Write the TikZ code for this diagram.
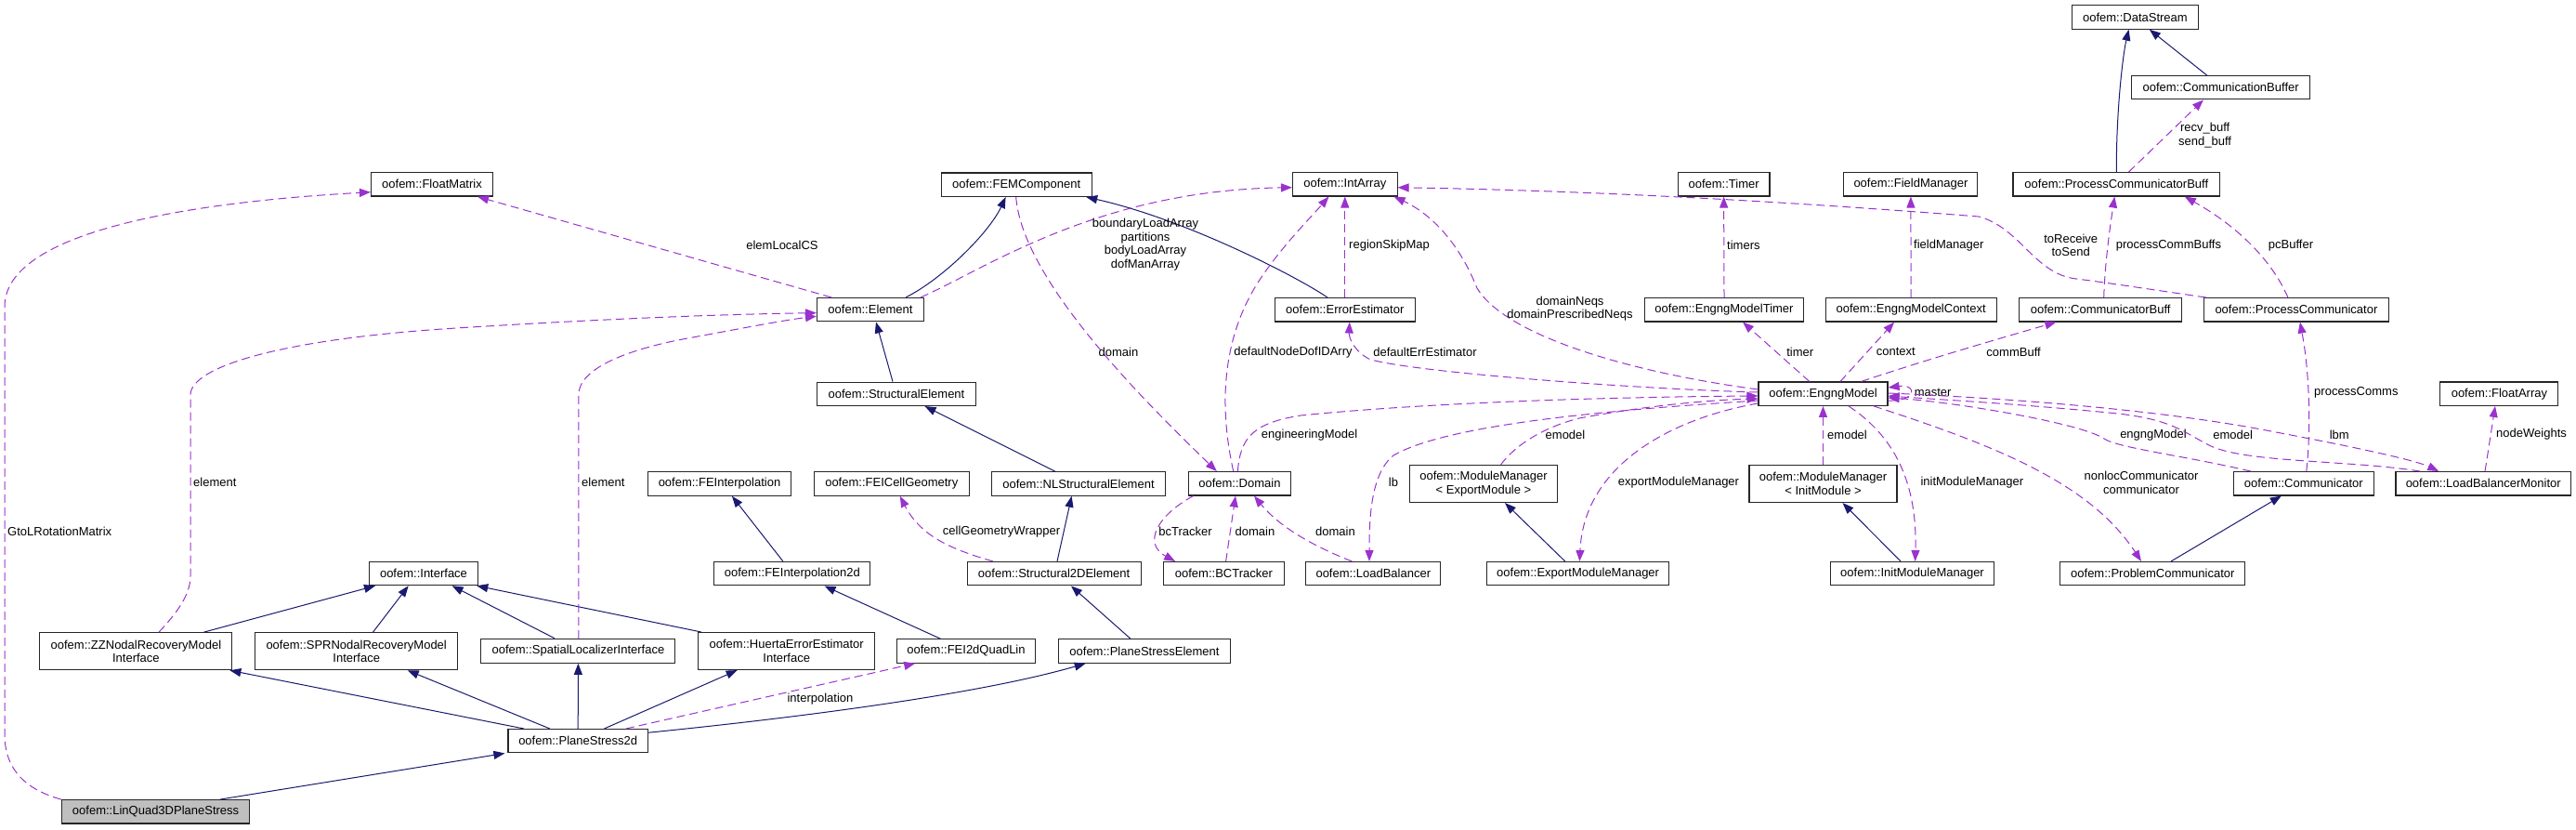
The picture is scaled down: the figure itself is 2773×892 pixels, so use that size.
\documentclass[tikz,border=0pt]{standalone}
\usepackage{fontspec}
\setmainfont{Liberation Sans}
\usetikzlibrary{arrows.meta}
\definecolor{inhcol}{HTML}{191970}
\definecolor{usecol}{HTML}{9A32CD}
\definecolor{boxgray}{HTML}{BFBFBF}
\begin{document}
\begin{tikzpicture}[x=1pt,y=-1pt,
  box/.style={draw=black!85, line width=1.1pt, fill=white, inner sep=0pt, minimum height=25.4pt, font=\fontsize{13}{14.5}\selectfont, align=center},
  box2/.style={box, minimum height=40pt},
  inh/.style={draw=inhcol, line width=1pt, -{Triangle[length=12pt,width=9pt]}},
  use/.style={draw=usecol, line width=1pt, dash pattern=on 9pt off 5pt, -{Triangle[length=12pt,width=9pt]}},
  lbl/.style={font=\fontsize{13}{14.5}\selectfont, inner sep=0pt, align=center, text=black}]
\useasboundingbox (0,0) rectangle (2773,892);
% nodes
\node[box, minimum width=131pt] (fm) at (465,198.3) {oofem::FloatMatrix};
\node[box, minimum width=162pt] (femc) at (1094.2,198.7) {oofem::FEMComponent};
\node[box, minimum width=112.5pt] (ia) at (1447.8,198.3) {oofem::IntArray};
\node[box, minimum width=98.7pt] (tim) at (1855.6,198.3) {oofem::Timer};
\node[box, minimum width=144pt] (fldm) at (2056.9,198.3) {oofem::FieldManager};
\node[box, minimum width=222.7pt] (pcb) at (2278.3,198.3) {oofem::ProcessCommunicatorBuff};
\node[box, minimum width=136pt] (ds) at (2298.4,18.5) {oofem::DataStream};
\node[box, minimum width=192pt] (cbuf) at (2390.6,94.2) {oofem::CommunicationBuffer};
\node[box, minimum width=115pt] (el) at (937,333.2) {oofem::Element};
\node[box, minimum width=151pt] (ee) at (1447.8,333.3) {oofem::ErrorEstimator};
\node[box, minimum width=171pt] (emt) at (1856,333.3) {oofem::EngngModelTimer};
\node[box, minimum width=184pt] (emc) at (2057.1,333.3) {oofem::EngngModelContext};
\node[box, minimum width=175pt] (cmb) at (2261.2,333.3) {oofem::CommunicatorBuff};
\node[box, minimum width=199pt] (pc) at (2471.9,333.3) {oofem::ProcessCommunicator};
\node[box, minimum width=171pt] (se) at (965,423.8) {oofem::StructuralElement};
\node[box, minimum width=139pt] (em) at (1962.5,423.7) {oofem::EngngModel};
\node[box, minimum width=127pt] (fa) at (2690.4,423.7) {oofem::FloatArray};
\node[box, minimum width=154.5pt] (fei) at (774.5,520.5) {oofem::FEInterpolation};
\node[box, minimum width=167pt] (feicg) at (959.8,520.5) {oofem::FEICellGeometry};
\node[box, minimum width=187pt] (nlse) at (1161,520.5) {oofem::NLStructuralElement};
\node[box, minimum width=110.7pt] (dom) at (1334.4,520.3) {oofem::Domain};
\node[box2, minimum width=158.4pt] (mmx) at (1597,520.5) {oofem::ModuleManager\\< ExportModule >};
\node[box2, minimum width=159pt] (mmi) at (1962.5,520.5) {oofem::ModuleManager\\< InitModule >};
\node[box, minimum width=151pt] (com) at (2479.8,520.3) {oofem::Communicator};
\node[box, minimum width=188.5pt] (lbm) at (2673.2,520.3) {oofem::LoadBalancerMonitor};
\node[box, minimum width=117.4pt] (inf) at (456,617) {oofem::Interface};
\node[box, minimum width=168pt] (fei2d) at (852.9,617.2) {oofem::FEInterpolation2d};
\node[box, minimum width=187pt] (s2d) at (1134.6,617.2) {oofem::Structural2DElement};
\node[box, minimum width=129.4pt] (bct) at (1317.4,617.2) {oofem::BCTracker};
\node[box, minimum width=145pt] (lb) at (1478.3,617.2) {oofem::LoadBalancer};
\node[box, minimum width=196.5pt] (emm) at (1698.6,617.2) {oofem::ExportModuleManager};
\node[box, minimum width=176pt] (imm) at (2058.5,617.2) {oofem::InitModuleManager};
\node[box, minimum width=199pt] (prc) at (2317.3,617.2) {oofem::ProblemCommunicator};
\node[box2, minimum width=207pt] (zz) at (146.4,700.7) {oofem::ZZNodalRecoveryModel\\Interface};
\node[box2, minimum width=218.4pt] (spr) at (383.7,700.7) {oofem::SPRNodalRecoveryModel\\Interface};
\node[box, minimum width=209pt, minimum height=26pt] (sli) at (622.4,700.3) {oofem::SpatialLocalizerInterface};
\node[box2, minimum width=189.7pt] (hee) at (846.7,700.5) {oofem::HuertaErrorEstimator\\Interface};
\node[box, minimum width=149.5pt] (fq) at (1040,700.5) {oofem::FEI2dQuadLin};
\node[box, minimum width=185.3pt] (pse) at (1232,700.5) {oofem::PlaneStressElement};
\node[box, minimum width=150.4pt] (ps2d) at (622.2,797.2) {oofem::PlaneStress2d};
\node[box, minimum width=202.6pt, fill=boxgray] (lq) at (167.6,873.3) {oofem::LinQuad3DPlaneStress};
% inheritance
\draw[inh] ([xshift=38pt]el.north) .. controls (1015,300) and (1065,250) .. ([xshift=-11.6pt]femc.south);
\draw[inh] ([xshift=-18.8pt]ee.north) .. controls (1400,300) and (1280,237) .. ([xshift=75pt]femc.south);
\draw[inh] ([xshift=-4pt]se.north) -- ([xshift=6pt]el.south);
\draw[inh] ([xshift=-25pt]nlse.north) -- ([xshift=30.5pt]se.south);
\draw[inh] ([xshift=3.4pt]s2d.north) -- ([xshift=-7.4pt]nlse.south);
\draw[inh] ([xshift=-10pt]fei2d.north) -- ([xshift=13.5pt]fei.south);
\draw[inh] ([xshift=-27.5pt]fq.north) -- ([xshift=34.6pt]fei2d.south);
\draw[inh] ([xshift=-15pt]pse.north) -- ([xshift=18.4pt]s2d.south);
\draw[inh] ([xshift=73pt]zz.north) -- ([xshift=-52pt]inf.south);
\draw[inh] ([xshift=17.8pt]spr.north) -- ([xshift=-16.3pt]inf.south);
\draw[inh] ([xshift=-25.4pt]sli.north) -- ([xshift=30.6pt]inf.south);
\draw[inh] ([xshift=-92pt]hee.north) -- ([xshift=-2pt]inf.south east);
\draw[inh] ([xshift=-58.4pt]ps2d.north) -- ([xshift=101pt]zz.south);
\draw[inh] ([xshift=-30.4pt]ps2d.north) -- ([xshift=55pt]spr.south);
\draw[inh] (ps2d.north) -- (sli.south);
\draw[inh] ([xshift=28.3pt]ps2d.north) -- ([xshift=-53pt]hee.south);
\draw[inh] ([yshift=9pt]ps2d.east) .. controls (850,773) and (1050,748) .. ([xshift=-63.3pt]pse.south);
\draw[inh] ([xshift=69.4pt]lq.north) -- ([xshift=-78.8pt]ps2d.south);
\draw[inh] ([xshift=-13.8pt]emm.north) -- ([xshift=23pt]mmx.south);
\draw[inh] ([xshift=-12.5pt]imm.north) -- ([xshift=21pt]mmi.south);
\draw[inh] ([xshift=19.7pt]prc.north) -- ([xshift=-24pt]com.south);
\draw[inh] (pcb.north) .. controls (2278,120) and (2285,60) .. ([xshift=-6.9pt]ds.south);
\draw[inh] ([xshift=-15pt]cbuf.north) -- ([xshift=15.4pt]ds.south);
% usage
\draw[use] (lq.north west) .. controls (30,850) and (5,830) .. (5,790) -- (5,330) .. controls (5,240) and (250,215) .. ([yshift=-8.4pt]fm.west);
\node[lbl, anchor=west] (lgtol) at (8,571.7) {GtoLRotationMatrix};
\draw[use] ([xshift=-42pt]el.north) -- ([xshift=-17pt]fm.south east);
\node[lbl] (lelcs) at (842,264.3) {elemLocalCS};
\draw[use] ([xshift=24.6pt]zz.north) .. controls (190,660) and (205,640) .. (205,620) -- (205,425) .. controls (205,395) and (300,365) .. (491,353) .. controls (650,343) and (780,338) .. ([yshift=-3.5pt]el.west);
\node[lbl, anchor=west] (lel1) at (208,519) {element};
\draw[use] ([xshift=0.4pt]sli.north) -- (622.8,425) .. controls (622.8,395) and (680,375) .. (740,364) .. controls (790,355) and (840,345) .. ([yshift=-7pt]el.west);
\node[lbl, anchor=west] (lel2) at (626,519) {element};
\draw[use] ([xshift=54pt]el.north) .. controls (1060,290) and (1180,205) .. ([yshift=-3.4pt]ia.west);
\node[lbl] (lbla) at (1233,263) {boundaryLoadArray\\partitions\\bodyLoadArray\\dofManArray};
\draw[use] ([xshift=-6.7pt]dom.north) .. controls (1315,450) and (1310,370) .. (1356.7,300) .. controls (1380,265) and (1410,235) .. ([xshift=-17.4pt]ia.south);
\node[lbl] (ldnd) at (1392,378.7) {defaultNodeDofIDArry};
\draw[use] (ee.north) -- (ia.south);
\node[lbl, anchor=west] (lrsm) at (1452,264.3) {regionSkipMap};
\draw[use] ([yshift=4.7pt]em.west) .. controls (1750,400) and (1620,360) .. (1590,310) .. controls (1570,260) and (1540,230) .. ([xshift=-4pt]ia.south east);
\node[lbl] (ldneq) at (1690,332) {domainNeqs\\domainPrescribedNeqs};
\draw[use] ([xshift=3pt]pc.north west) .. controls (2320,312) and (2260,303) .. (2235,300) .. controls (2190,295) and (2175,245) .. (2130,233) .. controls (1900,215) and (1700,205) .. ([yshift=-3.4pt]ia.east);
\node[lbl] (ltor) at (2229.2,264) {toReceive\\toSend};
\draw[use] ([yshift=1.7pt]em.west) .. controls (1750,418) and (1520,400) .. (1475,386.7) .. controls (1460,380) and (1452,365) .. ([xshift=5pt]ee.south);
\node[lbl] (lder) at (1534,378.7) {defaultErrEstimator};
\draw[use] ([xshift=-2pt]dom.north) .. controls (1335,470) and (1350,455) .. (1400,447) .. controls (1550,432) and (1750,427) .. ([yshift=-2.3pt]em.west);
\node[lbl] (lengm) at (1409.6,467.7) {engineeringModel};
\draw[use] ([xshift=18.6pt]mmx.north) .. controls (1630,480) and (1660,460) .. (1700,450) .. controls (1780,435) and (1850,430) .. ([yshift=-5.3pt]em.west);
\node[lbl] (lemx) at (1685,467.7) {emodel};
\draw[use] ([yshift=-7.3pt]em.west) .. controls (1750,440) and (1560,455) .. (1500,490) .. controls (1475,510) and (1474,560) .. ([xshift=-4.3pt]lb.north);
\node[lbl] (llb) at (1500,519.3) {lb};
\draw[use] ([yshift=-10.3pt]em.west) .. controls (1800,450) and (1705,500) .. ([xshift=1.8pt]emm.north);
\node[lbl] (lexm) at (1807,519.3) {exportModuleManager};
\draw[use] ([xshift=-14.7pt]em.north) -- ([xshift=20pt]emt.south);
\node[lbl] (ltimer) at (1937.7,378.7) {timer};
\draw[use] (emt.north) -- (tim.south);
\node[lbl, anchor=west] (ltimers) at (1859,264.3) {timers};
\draw[use] (emc.north) -- (fldm.south);
\node[lbl, anchor=west] (lfm) at (2060,264.3) {fieldManager};
\draw[use] ([xshift=18.5pt]em.north) -- ([xshift=-18pt]emc.south);
\node[lbl] (lctx) at (2040.8,378.7) {context};
\draw[use] ([xshift=41pt]em.north) .. controls (2080,385) and (2160,362) .. ([xshift=-47.8pt]cmb.south);
\node[lbl] (lcb) at (2167.6,378.7) {commBuff};
\draw[use] ([yshift=-7.3pt]em.east) .. controls (2064,432) and (2064,413) .. ([yshift=6.7pt]em.east);
\node[lbl] (lmaster) at (2080.6,422.7) {master};
\draw[use] ([xshift=3.5pt]cmb.north) .. controls (2266,280) and (2272,240) .. ([xshift=-2pt]pcb.south);
\node[lbl] (lpcbs) at (2334.4,264.3) {processCommBuffs};
\draw[use] ([xshift=-9pt]pc.north) .. controls (2450,290) and (2420,250) .. ([xshift=73.5pt]pcb.south);
\node[lbl] (lpcbuf) at (2466,264.3) {pcBuffer};
\draw[use] ([xshift=3pt]com.north) .. controls (2488,460) and (2486,400) .. ([xshift=4pt]pc.south);
\node[lbl, anchor=west] (lpcs) at (2491,422.7) {processComms};
\draw[use] ([xshift=27.5pt]em.south) .. controls (2040,470) and (2064,520) .. ([xshift=3.1pt]imm.north);
\node[lbl] (limm) at (2122.8,519.3) {initModuleManager};
\draw[use] (mmi.north) -- (em.south);
\node[lbl, anchor=west] (lemi) at (1967,467.7) {emodel};
\draw[use] ([xshift=54.5pt]em.south) .. controls (2150,480) and (2250,520) .. ([xshift=-12.3pt]prc.north);
\node[lbl] (lnonloc) at (2305,519.5) {nonlocCommunicator\\communicator};
\draw[use] ([xshift=-56.8pt]com.north) .. controls (2350,490) and (2280,482) .. (2265,472) .. controls (2240,455) and (2100,432) .. ([yshift=-4.3pt]em.east);
\node[lbl] (lengm2) at (2318,467.7) {engngModel};
\draw[use] ([xshift=-68pt]lbm.north) .. controls (2530,495) and (2420,498) .. (2380,480) .. controls (2350,465) and (2340,452) .. (2280,445) .. controls (2180,435) and (2090,430) .. ([yshift=-2.3pt]em.east);
\node[lbl] (lemlbm) at (2403.7,467.7) {emodel};
\draw[use] ([yshift=0.7pt]em.east) .. controls (2200,430) and (2350,445) .. (2450,465) .. controls (2530,480) and (2600,495) .. ([xshift=-48pt]lbm.north);
\node[lbl] (llbm) at (2518.3,467.7) {lbm};
\draw[use] ([xshift=1.8pt]lbm.north) -- ([xshift=-4.4pt]fa.south);
\node[lbl, anchor=west] (lnw) at (2687,467.3) {nodeWeights};
\draw[use] ([xshift=-23pt]lb.north) .. controls (1420,590) and (1380,570) .. ([xshift=15.6pt]dom.south);
\node[lbl] (ldom3) at (1437.5,571.7) {domain};
\draw[use] ([xshift=2.2pt]bct.north) -- ([xshift=-4.4pt]dom.south);
\node[lbl] (ldom2) at (1351,571.7) {domain};
\draw[use] ([xshift=6pt]dom.south west) .. controls (1245,555) and (1230,585) .. ([xshift=13pt]bct.north west);
\node[lbl] (lbct) at (1276,571.7) {bcTracker};
\draw[use] ([xshift=-65.6pt]s2d.north) .. controls (1020,590) and (990,575) .. ([xshift=9pt]feicg.south);
\node[lbl] (lcgw) at (1078,571.7) {cellGeometryWrapper};
\draw[use] ([xshift=-24pt]ps2d.north east) -- ([xshift=20.5pt]fq.south west);
\node[lbl] (linterp) at (883,751.7) {interpolation};
\draw[use] ([xshift=13.2pt]pcb.north) -- ([xshift=-18.7pt]cbuf.south);
\node[lbl, anchor=west] (lrecv) at (2345,145.5) {recv\_buff\\send\_buff};
\draw[use] ([xshift=-0.5pt]femc.south) .. controls (1100,300) and (1230,430) .. ([xshift=-24.6pt]dom.north);
\node[lbl] (ldom1) at (1204,378.7) {domain};
\end{tikzpicture}
\end{document}
